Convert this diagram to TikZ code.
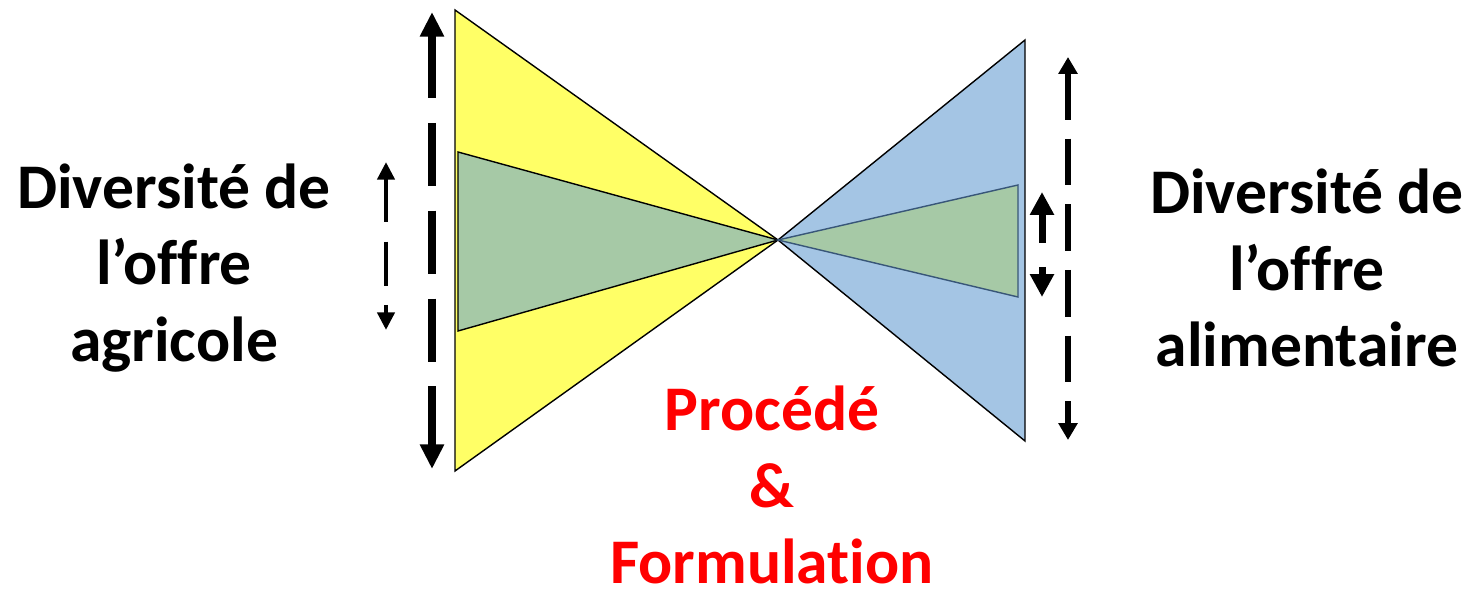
\documentclass[tikz,border=0pt]{standalone}
\usepackage{fontspec}
\setmainfont{Carlito}[Ligatures=CommonOff]
\usetikzlibrary{arrows.meta}
\definecolor{yel}{RGB}{255,255,102}
\definecolor{grn}{RGB}{166,201,166}
\definecolor{blu}{RGB}{164,197,228}
\definecolor{grnedge}{RGB}{56,86,120}
\tikzset{
  lbl/.style={font=\fontsize{36.2}{43.5}\selectfont\bfseries, align=center, inner sep=0pt},
  tri/.style={draw=black, line width=0.8pt},
  bigarrow/.style={line width=4pt, dash pattern=on 36pt off 14pt,
     {Triangle[length=14pt,width=13pt]}-{Triangle[length=14pt,width=13pt]}},
  smallarrow/.style={line width=2.8pt, dash pattern=on 25pt off 11pt,
     {Triangle[length=10pt,width=9.6pt]}-{Triangle[length=10pt,width=9.6pt]}},
  rbigarrow/.style={line width=3.4pt, dash pattern=on 26.6pt off 10.8pt,
     {Triangle[length=9.6pt,width=10.5pt]}-{Triangle[length=9.6pt,width=10.5pt]}},
  rsmall/.style={line width=4pt, -{Triangle[length=13pt,width=13pt]}}
}
\begin{document}
\begin{tikzpicture}[x=0.02cm,y=-0.02cm]
\useasboundingbox (0,0) rectangle (1473,590);
% triangles
\coordinate (apex) at (778,240);
\filldraw[tri, fill=yel] (455,10) -- (455,471) -- (apex) -- cycle;
\filldraw[tri, fill=grn] (458,152) -- (458,331) -- (apex) -- cycle;
\filldraw[tri, fill=blu] (1025,40) -- (1025,441) -- (apex) -- cycle;
\filldraw[fill=grn, draw=grnedge, line width=0.8pt] (1018,185) -- (1018,297) -- (apex) -- cycle;
% arrows
\coordinate (la1) at (432,12); \coordinate (la2) at (432,469);
\draw[bigarrow] (la1) -- (la2);
\coordinate (ls1) at (386,162); \coordinate (ls2) at (386,330);
\draw[smallarrow] (ls1) -- (ls2);
\coordinate (ra1) at (1068,57); \coordinate (ra2) at (1068,440);
\draw[rbigarrow] (ra1) -- (ra2);
\coordinate (rs1) at (1042,243); \coordinate (rs2) at (1042,192);
\coordinate (rs3) at (1042,267); \coordinate (rs4) at (1042,297);
\draw[rsmall] (rs1) -- (rs2);
\draw[rsmall] (rs3) -- (rs4);
% labels
\node[lbl] (left) at (174,268) {Diversité de\\l’offre\\agricole};
\node[lbl] (right) at (1307,268) {Diversité de\\l’offre\\alimentaire};
\node[lbl, text={rgb,255:red,255;green,0;blue,0}] (mid) at (772,485) {Procédé\\\&\\Formulation};
\end{tikzpicture}
\end{document}
